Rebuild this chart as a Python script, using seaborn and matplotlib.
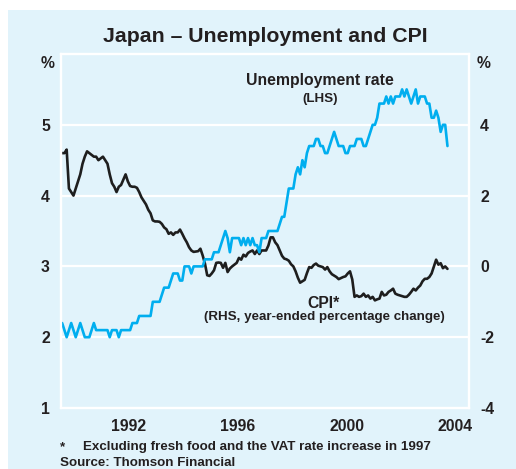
import numpy as np
import pandas as pd
import matplotlib
matplotlib.use("Agg")
import matplotlib.pyplot as plt
from matplotlib.patches import Rectangle
import seaborn as sns

# ── Data (monthly, Jan 1990 - Mar 2004) ──────────────────────────────
start_year = 1990

unemployment = [
    2.2, 2.1, 2.0, 2.1, 2.2, 2.1, 2.0, 2.1, 2.2, 2.1, 2.0, 2.0,   # 1990
    2.0, 2.1, 2.2, 2.1, 2.1, 2.1, 2.1, 2.1, 2.1, 2.0, 2.1, 2.1,   # 1991
    2.1, 2.0, 2.1, 2.1, 2.1, 2.1, 2.1, 2.2, 2.2, 2.2, 2.3, 2.3,   # 1992
    2.3, 2.3, 2.3, 2.3, 2.5, 2.5, 2.5, 2.5, 2.6, 2.7, 2.7, 2.7,   # 1993
    2.8, 2.9, 2.9, 2.9, 2.8, 2.8, 3.0, 3.0, 3.0, 2.9, 3.0, 3.0,   # 1994
    3.0, 3.0, 3.0, 3.1, 3.1, 3.1, 3.1, 3.2, 3.2, 3.2, 3.3, 3.4,   # 1995
    3.5, 3.4, 3.2, 3.4, 3.4, 3.4, 3.4, 3.3, 3.4, 3.3, 3.4, 3.3,   # 1996
    3.4, 3.3, 3.3, 3.2, 3.4, 3.4, 3.4, 3.5, 3.5, 3.5, 3.5, 3.5,   # 1997
    3.6, 3.7, 3.7, 3.9, 4.1, 4.1, 4.1, 4.3, 4.4, 4.3, 4.5, 4.4,   # 1998
    4.6, 4.7, 4.7, 4.7, 4.8, 4.8, 4.7, 4.7, 4.6, 4.6, 4.7, 4.8,   # 1999
    4.9, 4.8, 4.7, 4.7, 4.7, 4.6, 4.6, 4.7, 4.7, 4.7, 4.8, 4.8,   # 2000
    4.8, 4.7, 4.7, 4.8, 4.9, 5.0, 5.0, 5.1, 5.3, 5.3, 5.3, 5.4,   # 2001
    5.3, 5.4, 5.3, 5.4, 5.4, 5.4, 5.5, 5.4, 5.5, 5.4, 5.3, 5.4,   # 2002
    5.5, 5.3, 5.4, 5.4, 5.4, 5.3, 5.3, 5.1, 5.1, 5.2, 5.1, 4.9,   # 2003
    5.0, 5.0, 4.7,                                                # 2004
]

cpi = [
    3.2, 3.2, 3.3, 2.2, 2.1, 2.0, 2.2, 2.4, 2.6, 2.9, 3.1, 3.25,          # 1990
    3.2, 3.15, 3.1, 3.1, 3.0, 3.05, 3.1, 3.0, 2.9, 2.6, 2.35, 2.25,       # 1991
    2.1, 2.25, 2.3, 2.45, 2.6, 2.4, 2.27, 2.25, 2.25, 2.22, 2.1, 1.95,    # 1992
    1.85, 1.75, 1.6, 1.5, 1.3, 1.27, 1.27, 1.26, 1.2, 1.1, 1.05, 0.92,    # 1993
    0.96, 0.89, 0.96, 0.96, 1.04, 0.92, 0.79, 0.68, 0.54, 0.45, 0.41, 0.42,  # 1994
    0.43, 0.5, 0.31, 0.08, -0.25, -0.27, -0.2, -0.11, 0.1, 0.11, 0.1, -0.04,  # 1995
    0.1, -0.16, -0.06, 0.0, 0.05, 0.1, 0.24, 0.19, 0.33, 0.28, 0.38, 0.42,   # 1996
    0.45, 0.35, 0.45, 0.35, 0.45, 0.45, 0.45, 0.59, 0.82, 0.82, 0.68, 0.6,   # 1997
    0.45, 0.3, 0.22, 0.2, 0.16, 0.06, 0.0, -0.14, -0.32, -0.46, -0.42, -0.38,  # 1998
    -0.19, -0.02, -0.04, 0.04, 0.08, 0.02, 0.0, -0.02, -0.09, -0.02, -0.14, -0.22,  # 1999
    -0.26, -0.3, -0.36, -0.33, -0.3, -0.28, -0.2, -0.14, -0.37, -0.86, -0.82, -0.86,  # 2000
    -0.84, -0.77, -0.86, -0.82, -0.91, -0.86, -0.96, -0.93, -0.91, -0.72, -0.82, -0.8,  # 2001
    -0.72, -0.68, -0.63, -0.77, -0.8, -0.82, -0.84, -0.86, -0.86, -0.8, -0.72, -0.63,  # 2002
    -0.68, -0.6, -0.54, -0.42, -0.35, -0.35, -0.3, -0.2, 0.0, 0.19, 0.05, 0.09,  # 2003
    -0.05, 0.0, -0.07,                                                     # 2004
]

year_ticks = list(range(1991, 2005))
year_labels = [1992, 1996, 2000, 2004]
lhs_ticks = [1, 2, 3, 4, 5]
rhs_ticks = [-4, -2, 0, 2, 4]

df = pd.DataFrame({
    "date": start_year + (np.arange(len(unemployment)) + 0.5) / 12,
    "unemployment": unemployment,
    "cpi": cpi,
})

# ── Style ────────────────────────────────────────────────────────────
BG = "#E1F3FB"
BLUE = "#00AEEF"
BLACK = "#1E1E1E"
TXT = "#231F20"

sns.set_theme(style="white")
plt.rcParams["font.family"] = ["Liberation Sans", "DejaVu Sans"]
plt.rcParams["font.weight"] = "bold"

W, H = 516, 469
fig = plt.figure(figsize=(W / 100, H / 100), dpi=100)
fig.patch.set_facecolor("white")
fig.patches.append(Rectangle((8 / W, 0), 1 - 8 / W, 1 - 10 / H,
                             transform=fig.transFigure, facecolor=BG,
                             edgecolor="none", zorder=0))

left, right, top, bottom = 61, 469, 54, 408
ax = fig.add_axes([left / W, 1 - bottom / H, (right - left) / W, (bottom - top) / H])
ax.set_facecolor(BG)
ax2 = ax.twinx()

sns.lineplot(data=df, x="date", y="cpi", ax=ax2, color=BLACK, linewidth=1.9)
sns.lineplot(data=df, x="date", y="unemployment", ax=ax, color=BLUE, linewidth=1.9)
ax.set_zorder(2)
ax.patch.set_visible(False)
ax2.set_zorder(1)
ax2.patch.set_visible(True)
ax2.patch.set_facecolor(BG)

# axes ranges
ax.set_xlim(1990, 2005)
ax.set_ylim(1, 6)
ax2.set_ylim(-4, 6)

# gridlines
for v in lhs_ticks[1:]:
    ax2.axhline(2 * v - 6, color="white", lw=1.6, zorder=0)

for a in (ax, ax2):
    for s in a.spines.values():
        s.set_color("white")
        s.set_linewidth(1.6)
    a.set_xlabel("")
    a.set_ylabel("")

TICK_FS = 11.3
ax.set_yticks(lhs_ticks)
ax.set_yticklabels([str(v) for v in lhs_ticks], fontsize=TICK_FS, fontweight="bold", color=TXT)
ax2.set_yticks(rhs_ticks)
ax2.set_yticklabels([str(v) for v in rhs_ticks], fontsize=TICK_FS, fontweight="bold", color=TXT)
ax.tick_params(axis="y", length=0, pad=8)
ax2.tick_params(axis="y", length=0, pad=8)

ax.set_xticks(year_ticks)
ax.set_xticklabels([])
ax.tick_params(axis="x", direction="in", length=7, width=1.6, color="white")
ax.set_xticks([y + 0.5 for y in year_labels], minor=True)
ax.set_xticklabels([str(y) for y in year_labels], minor=True, fontsize=TICK_FS,
                   fontweight="bold", color=TXT)
ax.tick_params(axis="x", which="minor", length=0, pad=8)
ax2.tick_params(axis="x", length=0)

# ── Text ─────────────────────────────────────────────────────────────
def fig_text(x, y, s, **kw):
    fig.text(x / W, 1 - y / H, s, color=TXT, fontweight="bold", **kw)

fig_text(265, 36, "Japan – Unemployment and CPI", fontsize=15.3, ha="center", va="center")
fig_text(48, 63, "%", fontsize=TICK_FS, ha="center", va="center")
fig_text(484, 63, "%", fontsize=TICK_FS, ha="center", va="center")
fig_text(320, 81, "Unemployment rate", fontsize=11.3, ha="center", va="center")
fig_text(320, 99, "(LHS)", fontsize=9.6, ha="center", va="center")
fig_text(324, 303, "CPI*", fontsize=11.3, ha="center", va="center")
fig_text(324, 317, "(RHS, year-ended percentage change)", fontsize=9.6, ha="center", va="center")
fig_text(60, 447, "*", fontsize=9.6, ha="left", va="center")
fig_text(83, 447, "Excluding fresh food and the VAT rate increase in 1997",
         fontsize=9.6, ha="left", va="center")
fig_text(60, 463, "Source: Thomson Financial", fontsize=9.6, ha="left", va="center")

fig.savefig("out.png", dpi=100, facecolor=fig.get_facecolor())
plt.close(fig)
